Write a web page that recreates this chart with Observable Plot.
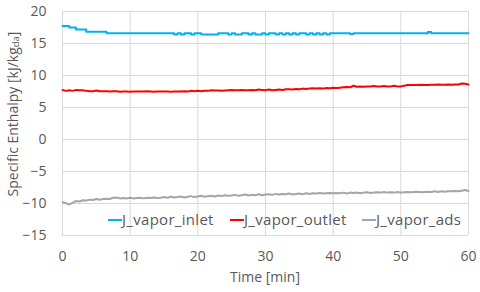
<!DOCTYPE html>
<html><head><meta charset="utf-8">
<script src="https://cdn.jsdelivr.net/npm/d3@7"></script>
<script src="https://cdn.jsdelivr.net/npm/@observablehq/plot@0.6"></script>
<style>body{margin:0;background:#fff;}</style>
</head><body><div id="chart"></div>
<script>
const xTicks = [0, 10, 20, 30, 40, 50, 60];
const yTicks = [-15, -10, -5, 0, 5, 10, 15, 20];
const seriesNames = ["J_vapor_inlet", "J_vapor_outlet", "J_vapor_ads"];
const seriesColors = ["#00B0F0", "#FF0000", "#A5A5A5"];
const stepMin = 0.5;
const inlet = [17.75,17.75,17.5,17.5,17.2,17.2,17.2,16.85,16.85,16.85,16.85,16.85,16.85,16.6,16.6,16.6,16.6,16.6,16.6,16.6,16.6,16.6,16.6,16.6,16.6,16.6,16.6,16.6,16.6,16.6,16.6,16.6,16.6,16.4,16.6,16.4,16.6,16.6,16.4,16.6,16.6,16.4,16.4,16.4,16.4,16.4,16.6,16.6,16.6,16.4,16.6,16.4,16.4,16.6,16.6,16.4,16.6,16.4,16.4,16.6,16.4,16.6,16.6,16.4,16.6,16.4,16.6,16.4,16.6,16.4,16.6,16.6,16.4,16.6,16.4,16.6,16.4,16.6,16.4,16.6,16.6,16.6,16.6,16.6,16.6,16.5,16.6,16.6,16.6,16.6,16.6,16.6,16.6,16.6,16.6,16.6,16.6,16.6,16.6,16.6,16.6,16.6,16.6,16.6,16.6,16.6,16.6,16.6,16.8,16.6,16.6,16.6,16.6,16.6,16.6,16.6,16.6,16.6,16.6,16.6,16.6];
const outlet = [7.75,7.6,7.7,7.6,7.75,7.7,7.7,7.6,7.55,7.55,7.65,7.55,7.55,7.55,7.5,7.55,7.55,7.45,7.5,7.5,7.45,7.5,7.5,7.5,7.5,7.55,7.5,7.45,7.5,7.5,7.5,7.5,7.45,7.5,7.5,7.5,7.55,7.5,7.6,7.55,7.6,7.55,7.6,7.6,7.7,7.65,7.65,7.6,7.65,7.7,7.75,7.7,7.7,7.75,7.7,7.7,7.75,7.7,7.8,7.75,7.7,7.8,7.7,7.75,7.8,7.75,7.85,7.85,7.8,7.9,7.85,7.95,7.9,7.95,8.0,7.95,8.0,7.95,8.05,8.0,8.1,8.05,8.1,8.15,8.2,8.15,8.4,8.25,8.3,8.25,8.3,8.3,8.35,8.3,8.3,8.35,8.3,8.3,8.4,8.3,8.3,8.4,8.5,8.5,8.5,8.5,8.55,8.5,8.5,8.55,8.55,8.6,8.55,8.55,8.6,8.55,8.6,8.6,8.75,8.7,8.6];
const ads = [-9.8,-9.95,-10.15,-9.9,-9.6,-9.7,-9.5,-9.55,-9.4,-9.45,-9.3,-9.4,-9.3,-9.25,-9.3,-9.1,-9.05,-9.2,-9.15,-9.2,-9.1,-9.2,-9.15,-9.1,-9.2,-9.1,-9.15,-9.05,-9.15,-9.1,-9.0,-9.1,-8.95,-9.05,-9.0,-8.9,-9.05,-8.95,-8.85,-9.0,-8.9,-8.8,-8.95,-8.85,-8.8,-8.9,-8.75,-8.85,-8.7,-8.8,-8.75,-8.65,-8.8,-8.7,-8.6,-8.75,-8.65,-8.7,-8.55,-8.7,-8.6,-8.55,-8.65,-8.5,-8.6,-8.5,-8.55,-8.45,-8.6,-8.5,-8.45,-8.55,-8.4,-8.5,-8.4,-8.45,-8.35,-8.45,-8.4,-8.35,-8.4,-8.35,-8.4,-8.3,-8.45,-8.3,-8.35,-8.3,-8.4,-8.3,-8.25,-8.35,-8.3,-8.25,-8.3,-8.2,-8.3,-8.25,-8.3,-8.2,-8.3,-8.25,-8.2,-8.25,-8.2,-8.15,-8.25,-8.2,-8.15,-8.2,-8.1,-8.2,-8.1,-8.15,-8.1,-8.1,-8.05,-8.1,-8.0,-7.9,-8.05];

const allSeries = [inlet, outlet, ads];
const rows = [];
allSeries.forEach((vals, s) => vals.forEach((v, i) => rows.push({t: i * stepMin, v, s: seriesNames[s]})));

const font = "'Open Sans', sans-serif";
const svg = Plot.plot({
  width: 480, height: 292,
  marginLeft: 62, marginRight: 12, marginTop: 11, marginBottom: 57,
  style: {fontFamily: font, fontSize: "14px", color: "#595959", background: "#fff"},
  x: {domain: [0, 60], ticks: xTicks, label: null, tickSize: 0, tickPadding: 16},
  y: {domain: [-15, 20], ticks: yTicks, label: null, tickSize: 0, tickPadding: 16},
  color: {domain: seriesNames, range: seriesColors},
  marks: [
    Plot.gridX(xTicks, {stroke: "#D9D9D9", strokeOpacity: 1}),
    Plot.gridY(yTicks, {stroke: "#D9D9D9", strokeOpacity: 1}),
    Plot.line(rows.filter(d => d.s === seriesNames[0]), {x: "t", y: "v", stroke: "s", strokeWidth: 2, curve: "step-after"}),
    Plot.line(rows.filter(d => d.s !== seriesNames[0]), {x: "t", y: "v", z: "s", stroke: "s", strokeWidth: 2})
  ]
});
const sel = d3.select(svg);
// y title
const yt = sel.append("text")
  .attr("transform", "translate(18,114) rotate(-90)")
  .attr("text-anchor", "middle")
  .attr("fill", "#595959").attr("font-size", 14).attr("font-family", font);
yt.append("tspan").text("Specific Enthalpy [kJ/kg");
yt.append("tspan").attr("font-size", 9.5).attr("dy", 1).text("da");
yt.append("tspan").attr("dy", -1).text("]");
// x title
sel.append("text").attr("x", 265).attr("y", 282).attr("text-anchor", "middle")
  .attr("fill", "#595959").attr("font-size", 14).attr("font-family", font).text("Time [min]");
// legend
const legX = [108, 230, 362];
const legY = 220;
seriesNames.forEach((n, i) => {
  sel.append("line").attr("x1", legX[i]).attr("x2", legX[i] + 14).attr("y1", legY).attr("y2", legY)
    .attr("stroke", seriesColors[i]).attr("stroke-width", 2);
  sel.append("text").attr("x", legX[i] + 14).attr("y", legY).attr("dy", "0.35em")
    .attr("text-anchor", "start").attr("letter-spacing", 0.3)
    .attr("fill", "#595959").attr("font-size", 15).attr("font-family", font).text(n);
});
document.getElementById("chart").appendChild(svg);
</script></body></html>
